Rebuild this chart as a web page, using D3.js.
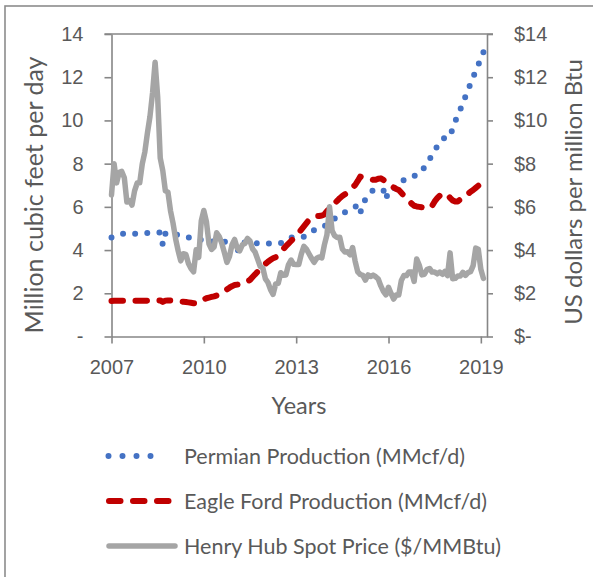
<!DOCTYPE html>
<html><head><meta charset="utf-8">
<script src="https://cdn.jsdelivr.net/npm/d3@7"></script>
<style>
body{margin:0;background:#fff;}
svg{display:block;font-family:Lato,"Open Sans",sans-serif;}
</style>
</head><body>
<svg id="chart" width="593" height="577"></svg>
<script>
// ---- data (monthly, Jan 2007 onward) ----
const startYear = 2007;
const permian = [
 4.58,4.62,4.66,4.70,4.74,4.77,4.78,4.77,4.76,4.75,4.75,4.76,
 4.77,4.78,4.79,4.79,4.80,4.80,4.81,4.81,4.25,4.75,4.81,4.79,
 4.76,4.73,4.70,4.66,4.63,4.61,4.59,4.57,4.55,4.53,4.50,4.47,
 4.44,4.42,4.41,4.40,4.39,4.38,4.38,4.38,4.38,4.38,4.38,4.38,
 4.37,3.85,4.30,4.36,4.35,4.34,4.33,4.32,4.31,4.31,4.30,4.30,
 4.30,4.30,4.30,4.31,4.31,4.31,4.32,4.36,4.42,4.50,4.58,4.60,
 4.60,4.59,4.59,4.62,4.70,4.80,4.88,4.92,4.96,4.99,5.02,5.10,
 5.20,5.30,5.38,5.46,5.55,5.66,5.70,5.75,5.81,5.88,5.94,6.01,
 6.05,5.70,6.20,6.33,6.50,6.65,6.78,6.79,6.80,6.80,6.78,6.35,
 6.75,6.82,6.85,6.90,7.00,7.10,7.25,7.30,7.35,7.40,7.43,7.50,
 7.56,7.62,7.85,8.05,8.20,8.40,8.60,8.80,9.00,9.13,9.20,9.25,
 9.25,9.64,9.95,10.25,10.50,10.84,11.10,11.43,11.70,12.00,12.30,12.58,
 12.85,13.16
];
const eagleFord = [
 1.64,1.65,1.65,1.66,1.66,1.66,1.65,1.65,1.65,1.65,1.65,1.65,
 1.65,1.65,1.66,1.66,1.66,1.66,1.66,1.67,1.60,1.66,1.67,1.66,
 1.65,1.64,1.63,1.62,1.61,1.60,1.58,1.56,1.54,1.53,1.58,1.66,
 1.72,1.77,1.80,1.83,1.86,1.90,1.96,2.02,2.10,2.18,2.26,2.33,
 2.38,2.40,2.42,2.45,2.48,2.55,2.62,2.75,2.88,3.00,3.12,3.24,
 3.36,3.46,3.55,3.62,3.67,3.78,3.92,4.05,4.18,4.30,4.42,4.54,
 4.66,4.80,4.95,5.10,5.25,5.40,5.50,5.55,5.57,5.58,5.60,5.65,
 5.80,5.94,6.05,6.17,6.28,6.40,6.50,6.58,6.65,6.78,6.90,7.01,
 7.20,7.40,7.38,7.33,7.29,7.27,7.25,7.25,7.30,7.32,7.25,7.15,
 7.05,6.98,6.90,6.83,6.78,6.65,6.52,6.40,6.28,6.15,6.05,6.02,
 6.00,5.98,5.96,5.94,5.93,6.05,6.25,6.40,6.52,6.60,6.63,6.55,
 6.42,6.30,6.25,6.25,6.35,6.40,6.50,6.60,6.70,6.78,6.88,6.98,
 7.05,7.12
];
const henryHub = [
 6.55,8.00,7.11,7.60,7.64,7.35,6.22,6.29,6.08,6.74,7.10,7.11,
 7.99,8.54,9.41,10.18,11.27,12.69,11.09,8.26,7.67,6.74,6.68,5.82,
 5.24,4.52,3.96,3.50,3.83,3.80,3.38,3.14,2.99,4.01,3.66,5.35,
 5.83,5.32,4.29,4.03,4.14,4.80,4.63,4.32,3.89,3.43,3.71,4.25,
 4.49,4.09,3.97,4.24,4.31,4.54,4.42,4.06,3.90,3.57,3.24,3.17,
 2.67,2.50,2.17,1.95,2.43,2.46,2.95,2.84,2.85,3.32,3.54,3.34,
 3.33,3.33,3.81,4.17,4.04,3.83,3.62,3.43,3.62,3.68,3.64,4.24,
 4.71,6.00,4.90,4.66,4.58,4.59,4.05,3.91,3.92,3.78,4.12,3.48,
 2.99,2.87,2.83,2.61,2.85,2.78,2.84,2.77,2.66,2.34,2.09,1.93,
 2.28,1.99,1.73,1.92,1.92,2.59,2.82,2.82,2.99,2.98,2.55,3.59,
 3.30,2.85,2.88,3.10,3.15,2.98,2.98,2.90,2.98,2.88,3.01,2.82,
 3.87,2.67,2.69,2.80,2.80,2.97,2.83,2.96,3.00,3.28,4.09,4.04,
 3.11,2.69
];
const xTickYears = [2007, 2010, 2013, 2016, 2019];
const leftTicks = [0, 2, 4, 6, 8, 10, 12, 14];
const rightTicks = [0, 2, 4, 6, 8, 10, 12, 14];
const seriesNames = ["Permian Production (MMcf/d)", "Eagle Ford Production (MMcf/d)", "Henry Hub Spot Price ($/MMBtu)"];
const axisTitles = {left: "Million cubic feet per day", right: "US dollars per million Btu", bottom: "Years"};

// ---- layout ----
const svg = d3.select("#chart");
const P = {l: 111.5, r: 487, t: 34, b: 336.5};
const textCol = "#595959", axisCol = "#868686";
const colors = ["#4472C4", "#C00000", "#A5A5A5"];

svg.append("rect").attr("x", 5).attr("y", 6).attr("width", 620).attr("height", 620)
  .attr("fill", "#fff").attr("stroke", "#8c8c8c").attr("stroke-width", 1.6);

const x = d3.scaleLinear().domain([0, 146.4]).range([P.l, P.r]);
const yL = d3.scaleLinear().domain([0, 14]).range([P.b, P.t]);
const yR = d3.scaleLinear().domain([0, 14]).range([P.b, P.t]);

function styleAxis(g) {
  g.select(".domain").attr("stroke", axisCol).attr("stroke-width", 1.6);
  g.selectAll(".tick line").attr("stroke", axisCol).attr("stroke-width", 1.6);
  g.selectAll(".tick text").attr("fill", textCol).attr("font-size", 20);
}

// top line
svg.append("line").attr("x1", P.l - 7).attr("x2", P.r + 6).attr("y1", P.t).attr("y2", P.t)
  .attr("stroke", axisCol).attr("stroke-width", 1.6);

svg.append("g").attr("transform", `translate(${P.l},0)`)
  .call(d3.axisLeft(yL).tickValues(leftTicks).tickSize(7).tickSizeOuter(0).tickPadding(21)
    .tickFormat(d => d === 0 ? "-" : d))
  .call(styleAxis);

svg.append("g").attr("transform", `translate(${P.r},0)`)
  .call(d3.axisRight(yR).tickValues(rightTicks).tickSize(6).tickSizeOuter(0).tickPadding(21)
    .tickFormat(d => d === 0 ? "$-" : "$" + d))
  .call(styleAxis);

svg.append("g").attr("transform", `translate(0,${P.b})`)
  .call(d3.axisBottom(x).tickValues(xTickYears.map(yv => (yv - startYear) * 12)).tickSize(7).tickSizeOuter(0).tickPadding(16)
    .tickFormat(d => String(startYear + d / 12)))
  .call(styleAxis);

// series
const line = (data, ys) => d3.line().x((d, i) => x(i)).y(d => ys(d))(data);

const pPath = svg.append("path").attr("d", line(permian, yL)).attr("fill", "none")
  .attr("stroke", colors[0]).attr("stroke-width", 6).attr("stroke-linecap", "round");
const pLen = pPath.node().getTotalLength();
const pGap = pLen / Math.round(pLen / 12.2);
pPath.attr("stroke-dasharray", `0 ${pGap}`);

svg.append("path").attr("d", line(eagleFord, yL)).attr("fill", "none")
  .attr("stroke", colors[1]).attr("stroke-width", 6).attr("stroke-linecap", "round")
  .attr("stroke-linejoin", "round").attr("stroke-dasharray", "11.5 12.5");
svg.append("path").attr("d", line(henryHub, yR)).attr("fill", "none")
  .attr("stroke", colors[2]).attr("stroke-width", 5.5).attr("stroke-linejoin", "round")
  .attr("stroke-linecap", "round");

// axis titles
svg.append("text").attr("transform", "translate(43,195) rotate(-90)")
  .attr("text-anchor", "middle").attr("fill", textCol).attr("font-size", 25).text(axisTitles.left);
svg.append("text").attr("transform", "translate(582,192) rotate(-90)")
  .attr("text-anchor", "middle").attr("fill", textCol).attr("font-size", 24).text(axisTitles.right);
svg.append("text").attr("x", 299).attr("y", 414)
  .attr("text-anchor", "middle").attr("fill", textCol).attr("font-size", 23.5).text(axisTitles.bottom);

// legend
const legY = [456, 501, 546];
const lg = svg.append("g");
lg.append("line").attr("x1", 108.5).attr("x2", 164.5).attr("y1", legY[0]).attr("y2", legY[0])
  .attr("stroke", colors[0]).attr("stroke-width", 6).attr("stroke-linecap", "round").attr("stroke-dasharray", "0 14");
lg.append("line").attr("x1", 109).attr("x2", 169).attr("y1", legY[1]).attr("y2", legY[1])
  .attr("stroke", colors[1]).attr("stroke-width", 6).attr("stroke-linecap", "round").attr("stroke-dasharray", "11.5 12.5");
lg.append("line").attr("x1", 109).attr("x2", 175).attr("y1", legY[2]).attr("y2", legY[2])
  .attr("stroke", colors[2]).attr("stroke-width", 5.5).attr("stroke-linecap", "round");
seriesNames.forEach((n, i) => {
  lg.append("text").attr("x", 184).attr("y", legY[i] + 7.5).attr("fill", textCol)
    .attr("font-size", 21.5).text(n);
});
</script>
</body></html>
